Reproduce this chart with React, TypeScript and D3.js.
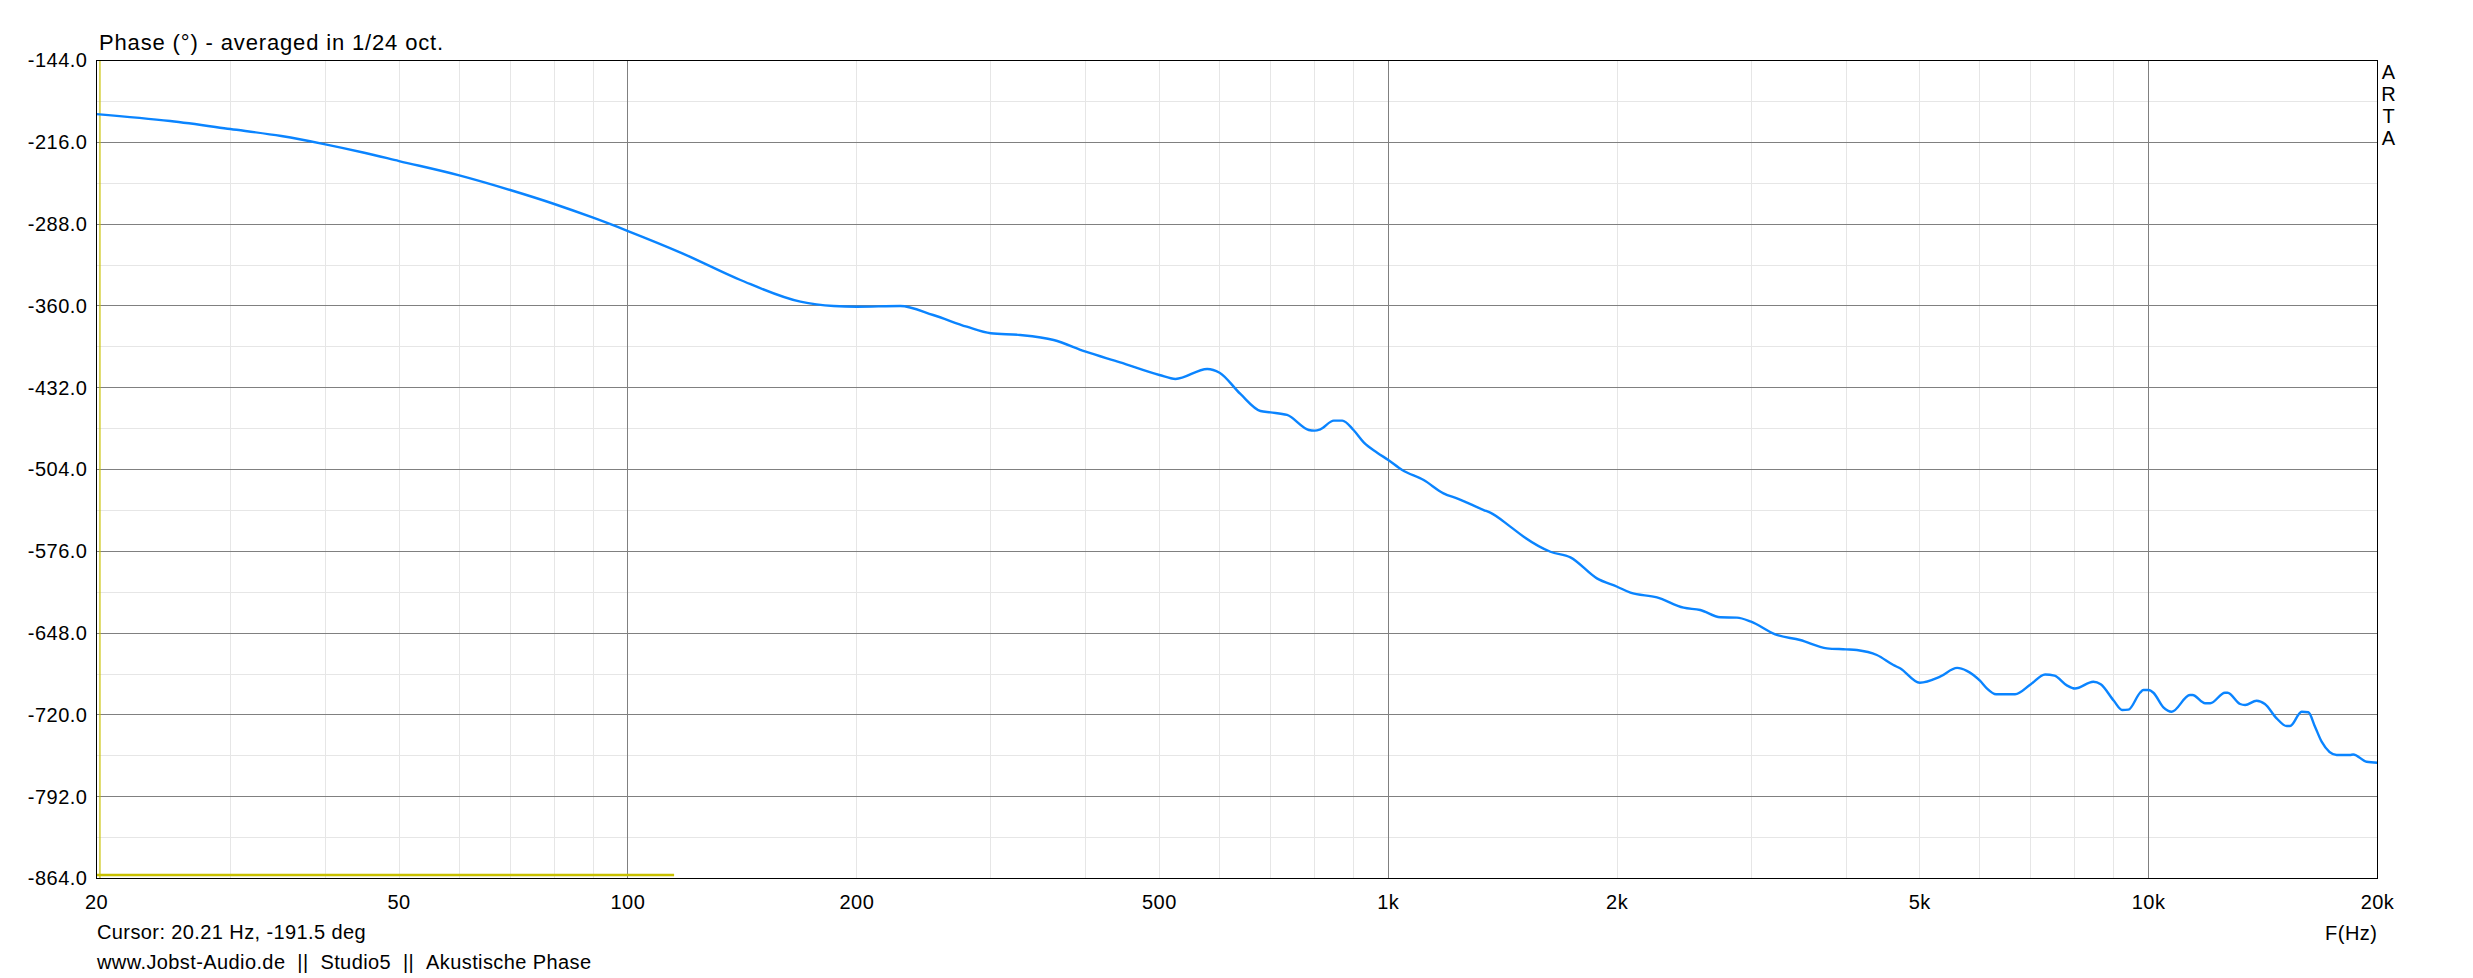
import React from "react";
import * as d3 from "d3";

// ---- data ----
const freqHz: number[] = [
  20, 25, 30, 35, 40, 45, 50, 60, 70, 80, 90, 100, 117.9, 140.6, 168.6, 186.5, 200, 228, 252, 279, 300, 328, 363, 400, 444,
  500, 525, 578, 600, 639, 679, 700, 736, 786, 800, 814, 848, 870, 900, 929, 967,
  1000, 1043, 1113, 1182, 1238, 1335, 1362, 1447, 1507, 1634, 1736, 1881, 2000, 2082, 2256, 2446, 2572, 2733, 2874,
  3000, 3228, 3481, 3775, 4000, 4133, 4391, 4617, 4711, 5000, 5317, 5600, 5766, 6000, 6126, 6300, 6674,
  7000, 7309, 7520, 7806, 8000, 8459, 8650, 9000, 9230, 9405, 9743, 9843, 10000, 10146, 10457, 10724,
  11334, 11421, 11868, 12052, 12602, 12700, 13191, 13393, 13868, 14221, 14736, 15193, 15348, 15896, 16220,
  16552, 16888, 17672, 18398, 18580, 19347, 20000,
];
const phaseDeg: number[] = [
  -191.2, -197.3, -204.3, -210.5, -217.8, -225.2, -232.5, -245.1, -258.0, -270.3, -282.4, -294.1, -313.7, -337.2, -356.3, -360.1, -360.7, -360.1, -368, -378.3, -384.1, -385.6, -390, -400.3, -409.7,
  -420.8, -424.3, -415.5, -418.8, -437.5, -452.5, -453.7, -456.0, -469.2, -469.8, -468.6, -461.0, -461.0, -469.2, -480.4, -489.2,
  -495.6, -504.4, -513.3, -525.0, -530.0, -539.7, -542.0, -554.3, -563.2, -576.4, -581.3, -599.8, -607.2, -612.4, -616.5, -625.6, -627.7, -634.1, -634.4,
  -638.0, -649.1, -654.1, -661.4, -662.3, -662.9, -667.3, -676.1, -679.0, -691.7, -686.4, -678.6, -681.2, -689.9, -696.6, -701.8, -701.8,
  -693.0, -684.4, -685.5, -694.0, -696.8, -690.8, -693.0, -707.6, -715.7, -715.4, -700.5, -698.1, -698.1, -700.5, -713.3, -717.2,
  -702.5, -702.5, -709.8, -709.8, -700.5, -700.5, -710.4, -711.3, -707.5, -710.4, -723.0, -729.8, -729.8, -717.2, -717.7,
  -730.4, -743.6, -755.3, -755.3, -754.8, -761.2, -762.1,
];

const yTicks: number[] = [-144, -216, -288, -360, -432, -504, -576, -648, -720, -792, -864];
const yMinor: number[] = [-180, -252, -324, -396, -468, -540, -612, -684, -756, -828];
const xLabelTicks: number[] = [20, 50, 100, 200, 500, 1000, 2000, 5000, 10000, 20000];
const xLabels: string[] = ["20", "50", "100", "200", "500", "1k", "2k", "5k", "10k", "20k"];
const xMajor: number[] = [100, 1000, 10000];

const cursorFreq = 20.21;
const markerBand: [number, number] = [20, 115];
const markerPhase = -861;

const titleText = "Phase (°) - averaged in 1/24 oct.";
const cursorText = "Cursor: 20.21 Hz, -191.5 deg";
const footerText = "www.Jobst-Audio.de\u00A0\u00A0||\u00A0\u00A0Studio5\u00A0\u00A0||\u00A0\u00A0Akustische Phase";
const xAxisTitle = "F(Hz)";
const brandLetters: string[] = ["A", "R", "T", "A"];

// ---- layout ----
const W = 2473;
const H = 978;
const L = 96.5;
const R = 2377.5;
const T = 60.5;
const B = 878.5;
const FONT = "'Liberation Sans', Arial, Helvetica, sans-serif";

export default function App() {
  const x = d3.scaleLog().domain([20, 20000]).range([L, R]);
  const y = d3.scaleLinear().domain([-144, -864]).range([T, B]);

  const minorX: number[] = [];
  for (let dec = 10; dec <= 10000; dec *= 10) {
    for (let m = 1; m <= 9; m++) {
      const f = dec * m;
      if (f > 20 && f < 20000 && !xMajor.includes(f)) minorX.push(f);
    }
  }

  const pts: [number, number][] = freqHz.map((f, i) => [f, phaseDeg[i]]);
  const line = d3
    .line<[number, number]>()
    .x((d) => x(d[0]))
    .y((d) => y(d[1]))
    .curve(d3.curveMonotoneX);

  return (
    <svg
      width={W}
      height={H}
      style={{ position: "absolute", left: 0, top: 0, background: "#fff", display: "block" }}
      fontFamily={FONT}
    >
      <rect x={0} y={0} width={W} height={H} fill="#fff" />
      {/* minor grid */}
      <g stroke="#e6e6e6" strokeWidth={1} shapeRendering="crispEdges">
        {minorX.map((f) => (
          <line key={"mx" + f} x1={x(f)} x2={x(f)} y1={T} y2={B} />
        ))}
        {yMinor.map((v) => (
          <line key={"my" + v} x1={L} x2={R} y1={y(v)} y2={y(v)} />
        ))}
      </g>
      {/* major grid */}
      <g stroke="#808080" strokeWidth={1} shapeRendering="crispEdges">
        {xMajor.map((f) => (
          <line key={"Mx" + f} x1={x(f)} x2={x(f)} y1={T} y2={B} />
        ))}
        {yTicks.slice(1, -1).map((v) => (
          <line key={"My" + v} x1={L} x2={R} y1={y(v)} y2={y(v)} />
        ))}
      </g>
      {/* markers */}
      <line
        x1={x(markerBand[0])}
        x2={x(markerBand[1])}
        y1={y(markerPhase)}
        y2={y(markerPhase)}
        stroke="#c8c000"
        strokeWidth={2.5}
      />
      <line x1={x(cursorFreq)} x2={x(cursorFreq)} y1={T} y2={B} stroke="#c8c000" strokeWidth={1.2} />
      {/* curve */}
      <path d={line(pts) || ""} fill="none" stroke="#0a84ff" strokeWidth={2.4} strokeLinejoin="round" />
      {/* frame */}
      <rect x={L} y={T} width={R - L} height={B - T} fill="none" stroke="#000" strokeWidth={1.4} shapeRendering="crispEdges" />

      {/* title */}
      <text x={99} y={49.5} fontSize={22} letterSpacing={0.85} fill="#000">
        {titleText}
      </text>
      {/* y labels */}
      {yTicks.map((v) => (
        <text key={"yl" + v} x={87.5} y={y(v) + 6.8} fontSize={20} letterSpacing={0.5} textAnchor="end" fill="#000">
          {v.toFixed(1)}
        </text>
      ))}
      {/* x labels */}
      {xLabelTicks.map((f, i) => (
        <text key={"xl" + f} x={x(f)} y={909} fontSize={20} letterSpacing={0.5} textAnchor="middle" fill="#000">
          {xLabels[i]}
        </text>
      ))}
      <text x={R} y={940} fontSize={20} letterSpacing={0.5} textAnchor="end" fill="#000">
        {xAxisTitle}
      </text>
      <text x={97} y={939} fontSize={20} letterSpacing={0.4} fill="#000">
        {cursorText}
      </text>
      <text x={97} y={968.5} fontSize={20} letterSpacing={0.4} fill="#000">
        {footerText}
      </text>
      {brandLetters.map((c, i) => (
        <text key={"b" + i} x={2388.5} y={79 + i * 22} fontSize={20} textAnchor="middle" fill="#000">
          {c}
        </text>
      ))}
    </svg>
  );
}
